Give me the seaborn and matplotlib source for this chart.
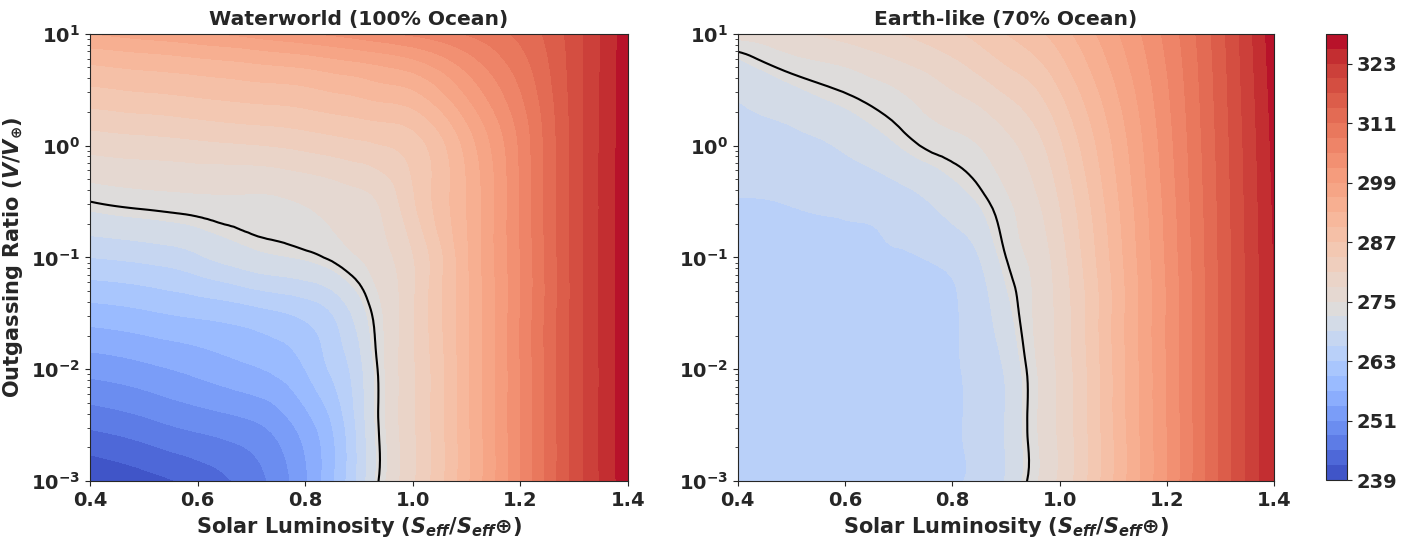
import numpy as np
import matplotlib
matplotlib.use("Agg")
import matplotlib.pyplot as plt
import matplotlib.tri as mtri
from matplotlib.colors import TwoSlopeNorm
from matplotlib.ticker import FixedLocator, FuncFormatter
import seaborn as sns

# grid: solar luminosity (S_eff / S_eff,earth) and log10 of outgassing ratio V/V_earth
s_eff = [0.4, 0.5, 0.6, 0.7, 0.8, 0.85, 0.9, 0.95, 1.0, 1.1, 1.2, 1.3, 1.4]
log_v = [-3, -2.5, -2, -1.5, -1, -0.5, 0, 0.5, 0.75, 1]

# surface temperature (K), one row per log_v value
temp_water = [
    [239.0, 240.8, 242.9, 246.5, 253.5, 259.5, 266.8, 275.0, 280.5, 292.2, 305.0, 318.0, 328.0],
    [245.5, 247.0, 248.8, 250.4, 255.5, 260.0, 267.0, 275.0, 280.5, 292.2, 305.0, 318.0, 328.0],
    [252.0, 253.2, 254.8, 256.6, 260.0, 263.5, 268.0, 275.2, 280.5, 292.2, 305.0, 318.0, 328.0],
    [258.6, 259.5, 260.6, 261.8, 263.8, 266.0, 270.5, 275.5, 280.6, 292.3, 305.0, 318.0, 328.0],
    [266.0, 266.8, 268.5, 271.0, 272.3, 273.4, 275.0, 277.3, 280.8, 292.5, 305.0, 318.0, 328.0],
    [273.0, 273.8, 274.3, 274.5, 275.2, 276.0, 277.0, 279.0, 283.5, 293.0, 305.2, 318.0, 328.0],
    [279.0, 279.6, 280.2, 280.8, 281.8, 282.5, 283.2, 284.0, 285.5, 294.0, 305.5, 318.0, 328.0],
    [286.5, 287.3, 288.0, 288.8, 289.5, 290.3, 291.0, 292.0, 293.0, 299.8, 308.0, 318.2, 328.0],
    [290.4, 291.3, 292.2, 293.2, 294.3, 295.2, 296.0, 297.0, 298.3, 303.5, 309.8, 318.3, 328.0],
    [296.0, 297.3, 298.5, 300.0, 301.7, 302.5, 303.5, 304.6, 305.6, 308.2, 311.8, 318.5, 328.0],
]

temp_earth = [
    [264.4, 264.5, 264.7, 264.9, 265.4, 267.0, 269.2, 274.1, 278.5, 290.0, 302.0, 314.5, 326.0],
    [264.5, 264.5, 264.7, 264.9, 265.4, 267.0, 269.2, 274.1, 278.5, 290.0, 302.0, 314.5, 326.0],
    [264.6, 264.6, 264.8, 265.0, 265.5, 267.1, 269.4, 274.2, 278.6, 290.1, 302.1, 314.5, 326.0],
    [264.9, 264.9, 265.1, 265.3, 265.7, 267.6, 271.0, 275.0, 278.9, 290.3, 302.2, 314.5, 326.1],
    [265.3, 265.5, 265.6, 265.9, 266.8, 269.0, 273.0, 275.6, 279.6, 290.8, 302.5, 314.6, 326.2],
    [265.9, 266.1, 266.5, 267.5, 270.5, 272.2, 274.5, 277.2, 281.1, 291.8, 303.0, 314.8, 326.5],
    [267.7, 268.0, 269.5, 272.0, 274.0, 275.0, 277.0, 279.5, 283.4, 293.2, 303.7, 315.1, 326.9],
    [269.4, 271.5, 273.2, 275.0, 278.0, 279.5, 281.5, 283.5, 287.0, 295.4, 304.6, 315.5, 327.4],
    [271.6, 274.2, 275.5, 277.8, 280.5, 282.3, 284.3, 286.2, 289.2, 296.8, 305.2, 315.7, 327.7],
    [276.0, 277.2, 279.3, 281.0, 283.4, 285.0, 287.0, 288.9, 291.5, 298.2, 305.9, 316.0, 328.0],
]

titles = ["Waterworld (100% Ocean)", "Earth-like (70% Ocean)"]
levels = np.arange(239, 330, 3)
freeze_level = [273]
x_ticks = [0.4, 0.6, 0.8, 1.0, 1.2, 1.4]
y_ticks = [-3, -2, -1, 0, 1]

sns.set_style("ticks")
plt.rcParams.update({
    "font.family": "DejaVu Sans",
    "font.weight": "bold",
    "axes.labelweight": "bold",
    "axes.titleweight": "bold",
    "axes.titlesize": 14.6,
    "axes.labelsize": 15,
    "xtick.labelsize": 14,
    "ytick.labelsize": 14,
    "mathtext.fontset": "custom",
    "mathtext.rm": "DejaVu Sans:bold",
    "mathtext.bf": "DejaVu Sans:bold",
    "mathtext.it": "DejaVu Sans:bold:italic",
})
cmap = sns.color_palette("coolwarm", as_cmap=True)
norm = TwoSlopeNorm(vmin=levels[0], vcenter=freeze_level[0], vmax=levels[-1])

fig = plt.figure(figsize=(14.08, 5.37), dpi=100)
ax1 = fig.add_axes([0.0639, 0.104, 0.382, 0.833])
ax2 = fig.add_axes([0.524, 0.104, 0.381, 0.833])
cax = fig.add_axes([0.9418, 0.106, 0.0149, 0.831])

minor = [np.log10(m * 10.0 ** e) for e in range(-3, 1) for m in range(2, 10)]

# smooth the read-off grid with matplotlib's own triangulation refiner,
# working in roughly square cells (log_v squeezed by 4) so the cubic stays tame
sg, lg = np.meshgrid(s_eff, log_v)
tri_sq = mtri.Triangulation(sg.ravel(), lg.ravel() / 4.0)
refiner = mtri.UniformTriRefiner(tri_sq)

for ax, temp, title in zip([ax1, ax2], [temp_water, temp_earth], titles):
    z = np.ravel(temp)
    interp = mtri.CubicTriInterpolator(tri_sq, z, kind="min_E")
    tri_r, z_r = refiner.refine_field(z, triinterpolator=interp, subdiv=3)
    tri_f = mtri.Triangulation(tri_r.x, tri_r.y * 4.0, tri_r.triangles)
    z_r = np.clip(z_r, levels[0], levels[-1])
    cf = ax.tricontourf(tri_f, z_r, levels=levels, cmap=cmap, norm=norm)
    ax.tricontour(tri_f, z_r, levels=freeze_level, colors="black", linewidths=1.5)
    ax.set_xlim(0.4, 1.4)
    ax.set_ylim(-3, 1)
    ax.set_title(title)
    ax.set_xlabel(r"Solar Luminosity ($S_{eff}/S_{eff}$⊕)")
    ax.set_xticks(x_ticks)
    ax.set_yticks(y_ticks)
    ax.yaxis.set_minor_locator(FixedLocator(minor))
    ax.yaxis.set_major_formatter(FuncFormatter(lambda v, p: rf"$10^{{{int(round(v))}}}$"))
    ax.tick_params(axis="y", which="minor", length=2)

ax1.set_ylabel(r"Outgassing Ratio ($V/V_{\oplus}$)")

cb = fig.colorbar(cf, cax=cax)
cb.ax.tick_params(labelsize=14)

fig.savefig("out.png", dpi=100)
